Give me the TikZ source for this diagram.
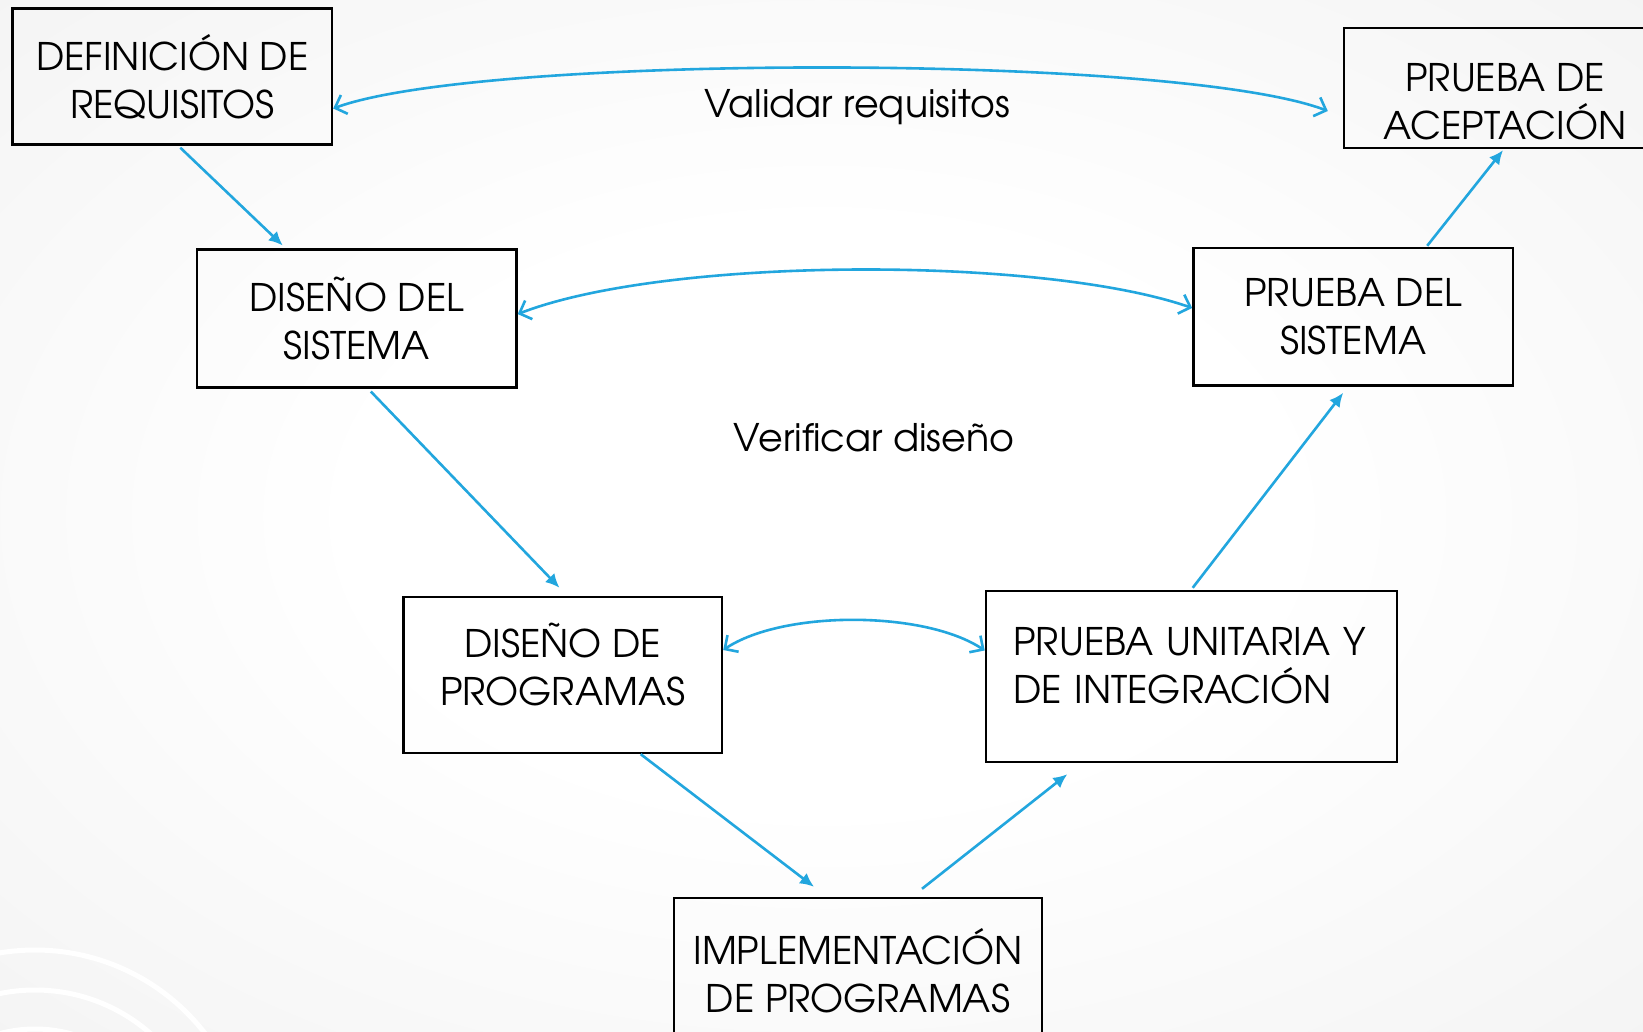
\documentclass[tikz,border=0pt]{standalone}
\usepackage{fontspec}
\setmainfont{TeX Gyre Adventor}
\usepackage{tikz}
\usetikzlibrary{positioning, arrows.meta}

\definecolor{vblue}{RGB}{34,166,222}
\definecolor{bggray}{RGB}{226,226,226}
\pgfdeclareradialshading{bgshade}{\pgfpoint{0bp}{0bp}}{color(0bp)=(white); color(14bp)=(white); color(72bp)=(bggray)}
% extra room above the first line / below the last line of a box
\newcommand{\padtop}[1]{\rule{0pt}{\dimexpr\fontcharht\font`P+#1\relax}}
\newcommand{\padbot}[1]{\rule[-#1]{0pt}{#1}}

\begin{document}
\begin{tikzpicture}[
x=0.5pt, y=-0.5pt,
mybox/.style={rectangle,
  draw=black,
  line width=1.2pt,
  inner sep=0pt,
  align=center,
  font=\fontsize{19}{24}\selectfont
},
mylabel/.style={font=\fontsize{19}{24}\selectfont},
myarrow/.style={-{Latex[length=7pt,width=6.5pt]}, vblue, line width=1.3pt},
mycheck/.style={{Straight Barb[length=5pt,width=10pt]}-{Straight Barb[length=5pt,width=10pt]}, vblue, line width=1.3pt}
]

\useasboundingbox (0,0) rectangle (1643,1032);
\shade[shading=bgshade] (0,0) rectangle (1643,1032);
\draw[white, line width=2.5pt] (35,1165) circle[radius=107.5pt];
\draw[white, line width=2.5pt] (35,1165) circle[radius=87.5pt];
\draw[white, line width=2.5pt] (35,1165) circle[radius=68pt];

% left side of the V
\node[mybox, minimum width=159.7pt, minimum height=68pt] (req) at (172.3,76.5)
    {DEFINICIÓN DE\\REQUISITOS};
\node[mybox, minimum width=159.7pt, minimum height=68.8pt] (sis) at (356.8,318.5)
    {DISEÑO DEL\\SISTEMA};
\node[mybox, minimum width=159.3pt, minimum height=78pt] (prog) at (562.7,675)
    {DISEÑO DE\\PROGRAMAS\padbot{10.5pt}};
\node[mybox, minimum width=184.2pt, minimum height=73pt] (impl) at (858,971)
    {IMPLEMENTACIÓN\\DE PROGRAMAS};

% right side of the V
\node[mybox, minimum width=205.4pt, minimum height=85.5pt, text width=178pt, align=left] (unit) at (1191.3,676.5)
    {PRUEBA UNITARIA Y\\DE INTEGRACIÓN\padbot{11.5pt}};
\node[mybox, minimum width=159.8pt, minimum height=68.8pt] (psis) at (1353.2,316.8)
    {PRUEBA DEL\\SISTEMA};
\node[mybox, minimum width=161pt, minimum height=60pt] (acept) at (1505,88)
    {\padtop{13.6pt}PRUEBA DE\\ACEPTACIÓN};

\node[mylabel] (validar) at (857,107) {Validar requisitos};
\node[mylabel] (verificar) at (874,438) {Verificar diseño};

\draw[myarrow] ([xshift=4pt,yshift=-1pt]req.south) -- ([xshift=-37pt,yshift=1.5pt]sis.north);
\draw[myarrow] ([xshift=7pt,yshift=-1.5pt]sis.south) -- ([xshift=-1.6pt,yshift=4pt]prog.north);
\draw[myarrow] ([xshift=39pt]prog.south) -- ([xshift=-22pt,yshift=5pt]impl.north);
\draw[myarrow] ([xshift=32pt,yshift=4pt]impl.north) -- ([xshift=-62pt,yshift=-5.5pt]unit.south);
\draw[myarrow] ([xshift=0.7pt,yshift=1pt]unit.north) -- ([xshift=-5pt,yshift=-3pt]psis.south);
\draw[myarrow] ([xshift=37pt,yshift=0.5pt]psis.north) -- ([xshift=-1pt,yshift=-0.5pt]acept.south);

\draw[mycheck] ([yshift=-16pt]req.east) .. controls +(150,-55) and +(-150,-57) .. ([xshift=-7.5pt,yshift=-11.5pt]acept.west);
\draw[mycheck] ([yshift=2.2pt]sis.east) .. controls +(150,-58) and +(-150,-52) .. ([yshift=4.4pt]psis.west);
\draw[mycheck] ([yshift=12.5pt]prog.east) .. controls +(60,-40) and +(-60,-40) .. ([yshift=13pt]unit.west);
\end{tikzpicture}
\end{document}
